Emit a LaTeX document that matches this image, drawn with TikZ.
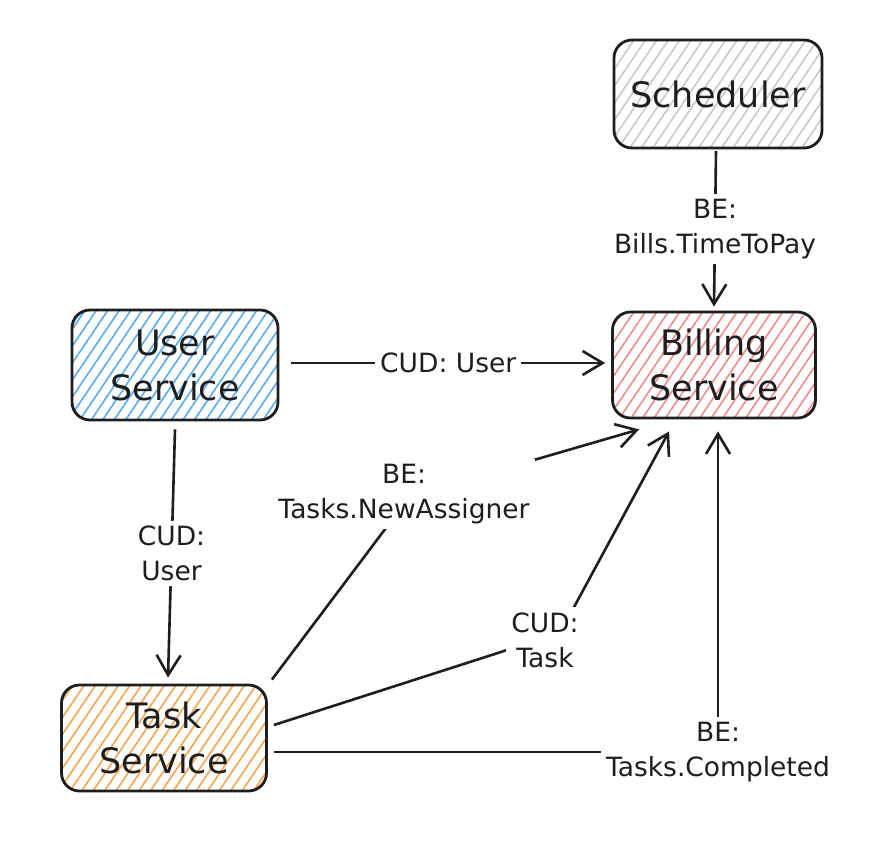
\documentclass[tikz,border=0pt]{standalone}
\usepackage{fontspec}
\setmainfont{DejaVu Sans}
\usetikzlibrary{arrows.meta,patterns.meta,calc}
\definecolor{ink}{HTML}{1E1E1E}
\definecolor{schedc}{HTML}{C5CBD1}
\definecolor{billc}{HTML}{F28C8C}
\definecolor{userc}{HTML}{5AABF2}
\definecolor{taskc}{HTML}{F5A550}
\begin{document}
\begin{tikzpicture}[x=1pt,y=-1pt,
  box/.style={draw=ink, line width=2.8pt, rounded corners=18pt, align=center,
    font=\fontsize{35}{45}\selectfont, text=ink,
    pattern={Lines[angle=56,distance=9.5pt,line width=1.6pt]}},
  conn/.style={draw=ink, line width=2.6pt, -{Straight Barb[length=20pt,width=24pt]}},
  lbl/.style={fill=white, font=\fontsize{26.5}{35}\selectfont, text=ink, align=center, inner sep=5pt}]
\fill[white] (0,0) rectangle (874,844);
\node[box, minimum width=208pt, minimum height=108pt, pattern color=schedc] (sched) at (718,94) {Scheduler};
\node[box, minimum width=203pt, minimum height=106pt, pattern color=billc] (bill) at (714,365) {Billing\\Service};
\node[box, minimum width=206pt, minimum height=110pt, pattern color=userc] (user) at (175,365) {User\\Service};
\node[box, minimum width=205pt, minimum height=106pt, pattern color=taskc] (task) at (164,738) {Task\\Service};

\draw[conn] ($(sched.south)+(-2,2)$) -- node[lbl]{BE:\\Bills.TimeToPay} ($(bill.north)+(0,-4)$);
\draw[conn] ($(user.east)+(12,-2)$) -- node[lbl]{CUD: User} ($(bill.west)+(-6,-2)$);
\draw[conn] ($(user.south)+(0,8)$) -- node[lbl]{CUD:\\User} ($(task.north)+(4,-6)$);

\coordinate (m1) at (410,496);
\draw[conn, rounded corners=30pt] ($(task.north east)+(4,-4)$) -- (m1) -- ($(bill.south west)+(28,10)$);
\node[lbl] (l1) at ($(m1)+(-6,-2)$) {BE:\\Tasks.NewAssigner};

\coordinate (m2) at (560,633);
\draw[conn, rounded corners=30pt] ($(task.east)+(6,-13)$) -- (m2) -- ($(bill.south west)+(58,12)$);
\node[lbl] (l2) at (545,640) {CUD:\\Task};

\draw[conn] ($(task.east)+(6,14)$) -| node[lbl]{BE:\\Tasks.Completed} ($(bill.south)+(4,12)$);
\end{tikzpicture}
\end{document}
